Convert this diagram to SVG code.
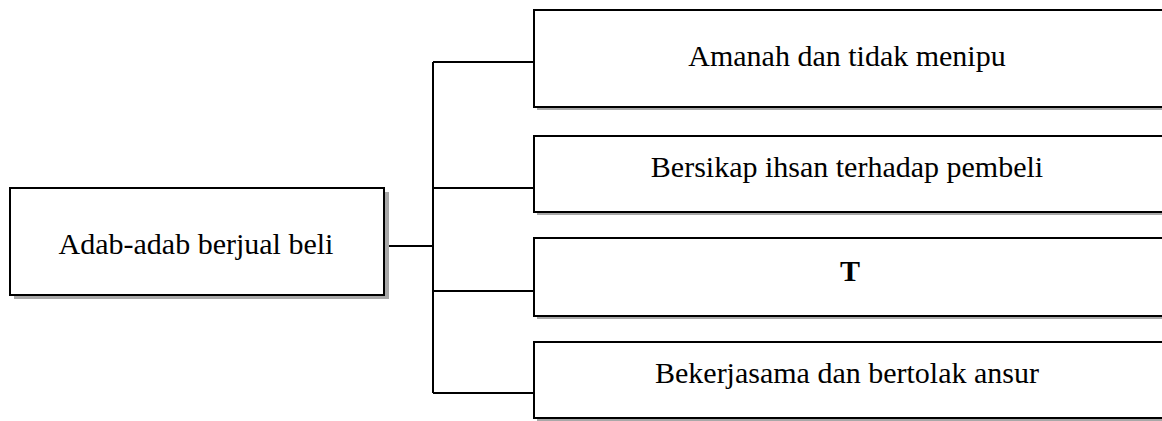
<svg xmlns="http://www.w3.org/2000/svg" width="1162" height="421" viewBox="0 0 1162 421">
<style>
  .box { fill: #ffffff; stroke: #000000; stroke-width: 2; }
  .shadow { fill: #a8a8a8; }
  .lbl { font-family: "Liberation Serif", "Times New Roman", serif; font-size: 30px; fill: #000000; text-anchor: middle; }
  .bold { font-weight: bold; }
  .conn { fill: none; stroke: #000000; stroke-width: 2; }
</style>
<rect width="1162" height="421" fill="#ffffff"/>
<g id="connectors">
  <path class="conn" d="M384,246 H433"/>
  <path class="conn" d="M433,62 V393"/>
  <path class="conn" d="M433,62 H534"/>
  <path class="conn" d="M433,188 H534"/>
  <path class="conn" d="M433,291 H534"/>
  <path class="conn" d="M433,393 H534"/>
</g>
<g id="node-root">
  <rect class="shadow" x="14" y="192" width="375" height="107"/>
  <rect class="box" x="10" y="188" width="374" height="107"/>
  <text class="lbl" x="196" y="254">Adab-adab berjual beli</text>
</g>
<g id="node-amanah">
  <rect class="shadow" x="537" y="13" width="640" height="97"/>
  <rect class="box" x="534" y="10" width="640" height="97"/>
  <text class="lbl" x="847" y="66">Amanah dan tidak menipu</text>
</g>
<g id="node-ihsan">
  <rect class="shadow" x="537" y="139" width="640" height="76"/>
  <rect class="box" x="534" y="136" width="640" height="76"/>
  <text class="lbl" x="847" y="177">Bersikap ihsan terhadap pembeli</text>
</g>
<g id="node-t">
  <rect class="shadow" x="537" y="241" width="640" height="78"/>
  <rect class="box" x="534" y="238" width="640" height="78"/>
  <text class="lbl bold" x="850" y="281">T</text>
</g>
<g id="node-bekerjasama">
  <rect class="shadow" x="537" y="345" width="640" height="76"/>
  <rect class="box" x="534" y="342" width="640" height="76"/>
  <text class="lbl" x="847" y="383">Bekerjasama dan bertolak ansur</text>
</g>
</svg>
